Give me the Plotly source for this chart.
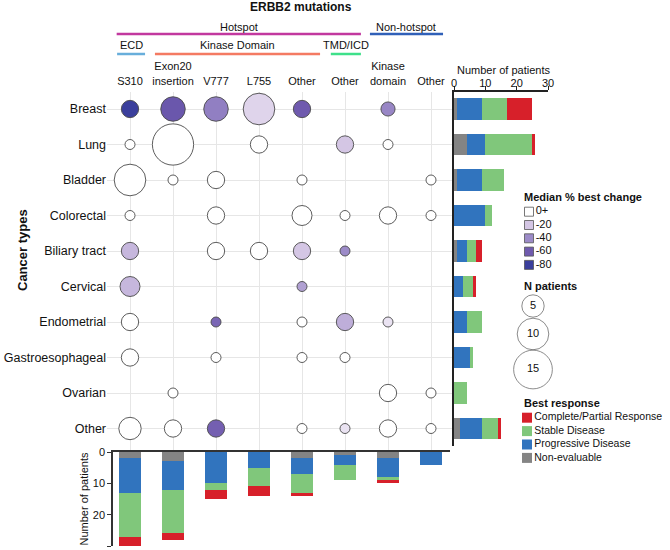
import numpy as np
import plotly.graph_objects as go

# ---------------- DATA ----------------
cancer_types = ["Breast", "Lung", "Bladder", "Colorectal", "Biliary tract", "Cervical",
                "Endometrial", "Gastroesophageal", "Ovarian", "Other"]
mutations = ["S310", "Exon20<br>insertion", "V777", "L755", "Other", "Other",
             "Kinase<br>domain", "Other"]

# N patients: rows = cancer types, cols = mutations (None = no patients)
n_patients = [
    [3, 6, 6, 10, 3, None, 2, None],
    [1, 17, None, 3, None, 3, 1, None],
    [10, 1, 3, None, 1, None, None, 1],
    [1, None, 3, None, 4, 1, 3, 1],
    [3, None, 3, 3, 3, 1, None, None],
    [4, None, None, None, 1, None, None, None],
    [3, None, 1, None, 1, 3, 1, None],
    [3, None, 1, None, 1, 1, None, None],
    [None, 1, None, None, None, None, 3, 1],
    [5, 3, 3, None, 1, 1, 3, 1],
]
# Median % best change (0 = "0+")
median_change = [
    [-80, -62, -45, -15, -60, None, -42, None],
    [0, 0, None, 0, None, -20, 0, None],
    [0, 0, 0, None, 0, None, None, 0],
    [0, None, 0, None, 0, 0, 0, 0],
    [-25, None, 0, 0, -20, -40, None, None],
    [-25, None, None, None, -33, None, None, None],
    [0, None, -55, None, 0, -28, -10, None],
    [0, None, 0, None, 0, 0, None, None],
    [None, 0, None, None, None, None, 0, 0],
    [0, 0, -58, None, 0, -10, 0, 0],
]

# Best response by cancer type
type_ne = [1, 4, 1, 0, 1, 0, 0, 0, 0, 2]
type_pd = [8, 6, 8, 10, 3, 3, 4, 5, 0, 7]
type_sd = [8, 15, 7, 2, 3, 3, 5, 1, 4, 5]
type_cr = [8, 1, 0, 0, 2, 1, 0, 0, 0, 1]

# Best response by mutation
mut_ne = [2, 3, 0, 0, 2, 1, 2, 0]
mut_pd = [11, 9, 10, 5, 5, 3, 6, 4]
mut_sd = [14, 14, 2, 6, 6, 5, 1, 0]
mut_cr = [3, 2, 3, 3, 1, 0, 1, 0]

response_labels = ["Complete/Partial Response", "Stable Disease", "Progressive Disease", "Non-evaluable"]
change_legend_values = [0, -20, -40, -60, -80]
change_legend_labels = ["0+", "-20", "-40", "-60", "-80"]
n_legend_values = [5, 10, 15]

# ---------------- STYLE ----------------
W, H = 670, 550
FONT = "Arial, Liberation Sans, sans-serif"
COLORSCALE = [[0.0, "#3b3f9c"], [0.25, "#6f5aae"], [0.5, "#9c8bc8"], [0.75, "#d4c6e4"], [1.0, "#ffffff"]]
C_CR, C_SD, C_PD, C_NE = "#d7202a", "#80c77b", "#3174be", "#848484"
BUBBLE_SCALE = 10.0
GRID = "#e6e6e6"

def px(x):
    return x / W

def py(y):
    return 1 - y / H

COL_PX, COL_X0 = 43.0, 130.0   # column spacing / first column centre (pixels)
ROW_PX, ROW_Y0 = 35.5, 109.0   # row spacing / first row centre (pixels)

fig = go.Figure()

# bubble matrix
bx, by, bn, bc = [], [], [], []
for i, row in enumerate(n_patients):
    for j, n in enumerate(row):
        if n is None:
            continue
        bx.append(j)
        by.append(i)
        bn.append(n)
        bc.append(median_change[i][j])
fig.add_trace(go.Scatter(
    x=bx, y=by, mode="markers", xaxis="x", yaxis="y", showlegend=False, hoverinfo="skip",
    marker=dict(size=BUBBLE_SCALE * np.sqrt(np.array(bn, dtype=float)), sizemode="diameter",
                color=bc, colorscale=COLORSCALE, cmin=-80, cmax=0, opacity=1,
                line=dict(color="#4a4a4a", width=0.9))))

# bottom bars (by mutation)
for vals, c in [(mut_ne, C_NE), (mut_pd, C_PD), (mut_sd, C_SD), (mut_cr, C_CR)]:
    fig.add_trace(go.Bar(x=list(range(len(mutations))), y=vals, width=0.51, marker=dict(color=c, line=dict(width=0)),
                         xaxis="x2", yaxis="y2", showlegend=False, hoverinfo="skip"))

# right bars (by cancer type)
for vals, c in [(type_ne, C_NE), (type_pd, C_PD), (type_sd, C_SD), (type_cr, C_CR)]:
    fig.add_trace(go.Bar(y=list(range(len(cancer_types))), x=vals, orientation="h", width=0.6,
                         marker=dict(color=c, line=dict(width=0)),
                         xaxis="x3", yaxis="y3", showlegend=False, hoverinfo="skip"))

# legend: colour swatches
sw_y = [211.7 + 13.3 * k for k in range(len(change_legend_values))]
fig.add_trace(go.Scatter(
    x=[529] * len(sw_y), y=sw_y, mode="markers+text", xaxis="x4", yaxis="y4", showlegend=False, hoverinfo="skip",
    text=change_legend_labels, textposition="middle right", textfont=dict(size=11, color="#111"),
    marker=dict(symbol="square", size=9, color=change_legend_values, colorscale=COLORSCALE, cmin=-80, cmax=0,
                line=dict(color="#555", width=0.8))))
# legend: N patients circles
fig.add_trace(go.Scatter(
    x=[533] * 3, y=[306, 334, 369.5], mode="markers+text", xaxis="x4", yaxis="y4", showlegend=False, hoverinfo="skip",
    text=[str(v) for v in n_legend_values], textposition="middle center", textfont=dict(size=11, color="#111"),
    marker=dict(size=BUBBLE_SCALE * np.sqrt(np.array(n_legend_values, dtype=float)), color="white",
                line=dict(color="#4a4a4a", width=0.9))))
# legend: best response
br_y = [417.7 + 13.4 * k for k in range(4)]
fig.add_trace(go.Scatter(
    x=[527] * 4, y=br_y, mode="markers+text", xaxis="x4", yaxis="y4", showlegend=False, hoverinfo="skip",
    text=response_labels, textposition="middle right", textfont=dict(size=10.5, color="#111"),
    marker=dict(symbol="square", size=10, color=[C_CR, C_SD, C_PD, C_NE], line=dict(width=0))))

mx0, mx1 = 107, 454
my0, my1 = 92, 452
fig.update_layout(
    width=W, height=H, margin=dict(l=0, r=0, t=0, b=0, pad=0, autoexpand=False),
    paper_bgcolor="white", plot_bgcolor="rgba(0,0,0,0)",
    font=dict(family=FONT, size=11, color="#111"),
    barmode="stack", bargap=0,
    xaxis=dict(domain=[px(mx0), px(mx1)], range=[(mx0 - COL_X0) / COL_PX, (mx1 - COL_X0) / COL_PX],
               side="top", anchor="y", tickvals=list(range(len(mutations))), ticktext=mutations,
               showgrid=True, gridcolor=GRID, gridwidth=1, zeroline=False, showline=False, ticks="",
               tickfont=dict(size=11), ticklabelstandoff=4, automargin=False),
    yaxis=dict(domain=[py(my1), py(my0)], range=[(my1 - ROW_Y0) / ROW_PX, (my0 - ROW_Y0) / ROW_PX],
               anchor="x", tickvals=list(range(len(cancer_types))), ticktext=cancer_types,
               showgrid=True, gridcolor=GRID, gridwidth=1, zeroline=False, showline=False, ticks="",
               tickfont=dict(size=12.5), automargin=False),
    xaxis2=dict(domain=[px(113), px(450)], range=[(113 - COL_X0) / COL_PX, (450 - COL_X0) / COL_PX],
                anchor="y2", side="top", showline=True, linecolor="#333", linewidth=2,
                showticklabels=False, ticks="", showgrid=False, zeroline=False, automargin=False),
    yaxis2=dict(domain=[py(546), py(452)], range=[30, 0], anchor="x2", tickvals=[0, 10, 20, 30],
                ticks="outside", ticklen=4, tickcolor="#333", showline=True, linecolor="#333", linewidth=1.5,
                showgrid=False, zeroline=False, tickfont=dict(size=11), automargin=False,
                title=dict(text="Number of patients", font=dict(size=11), standoff=2)),
    xaxis3=dict(domain=[px(454), px(548)], range=[0, 30], anchor="y3", side="top",
                tickvals=[0, 10, 20, 30], ticks="outside", ticklen=4, tickcolor="#222",
                showline=True, linecolor="#222", linewidth=1.5, showgrid=False, zeroline=False,
                tickfont=dict(size=11), automargin=False, ticklabelstandoff=-5),
    yaxis3=dict(domain=[py(446), py(my0)], range=[(446 - ROW_Y0) / ROW_PX, (my0 - ROW_Y0) / ROW_PX],
                anchor="x3", showline=True, linecolor="#222", linewidth=2, showticklabels=False,
                ticks="", showgrid=False, zeroline=False, automargin=False),
    xaxis4=dict(domain=[0, 1], range=[0, W], visible=False, anchor="y4", fixedrange=True, automargin=False),
    yaxis4=dict(domain=[0, 1], range=[H, 0], visible=False, anchor="x4", fixedrange=True, automargin=False),
)

# header groups
top_groups = [("Hotspot", -0.31, 5.37, "#c2389f"), ("Non-hotspot", 5.58, 7.28, "#3060b8")]
sub_groups = [("ECD", -0.30, 0.35, "#68aedb"), ("Kinase Domain", 0.58, 4.42, "#f47a62"),
              ("TMD/ICD", 4.67, 5.37, "#3ee08a")]
shapes, annots = [], []
for groups, ly, ty in [(top_groups, 34, 27), (sub_groups, 54, 45)]:
    for name, a, b, c in groups:
        shapes.append(dict(type="line", xref="x", yref="paper", x0=a, x1=b, y0=py(ly), y1=py(ly),
                           line=dict(color=c, width=2.5)))
        annots.append(dict(text=name, xref="x", yref="paper", x=(a + b) / 2, y=py(ty), showarrow=False,
                           xanchor="center", yanchor="middle", font=dict(size=11)))

annots.append(dict(text="<b>ERBB2 mutations</b>", xref="paper", yref="paper", x=px(301), y=py(7),
                   showarrow=False, xanchor="center", yanchor="middle", font=dict(size=12)))
annots.append(dict(text="<b>Cancer types</b>", xref="paper", yref="paper", x=px(22), y=py(250),
                   showarrow=False, textangle=-90, xanchor="center", yanchor="middle", font=dict(size=13)))
annots.append(dict(text="Number of patients", xref="paper", yref="paper", x=px(503), y=py(70),
                   showarrow=False, xanchor="center", yanchor="middle", font=dict(size=11)))
for t, yy in [("Median % best change", 197), ("N patients", 285.7), ("Best response", 402.7)]:
    annots.append(dict(text="<b>" + t + "</b>", xref="paper", yref="paper", x=px(522), y=py(yy),
                       showarrow=False, xanchor="left", yanchor="middle", font=dict(size=11)))

fig.update_layout(shapes=shapes, annotations=annots)
fig.write_html("out.html", config={"displayModeBar": False},
               post_script="document.body.style.margin='0px';document.body.style.padding='0px';")
